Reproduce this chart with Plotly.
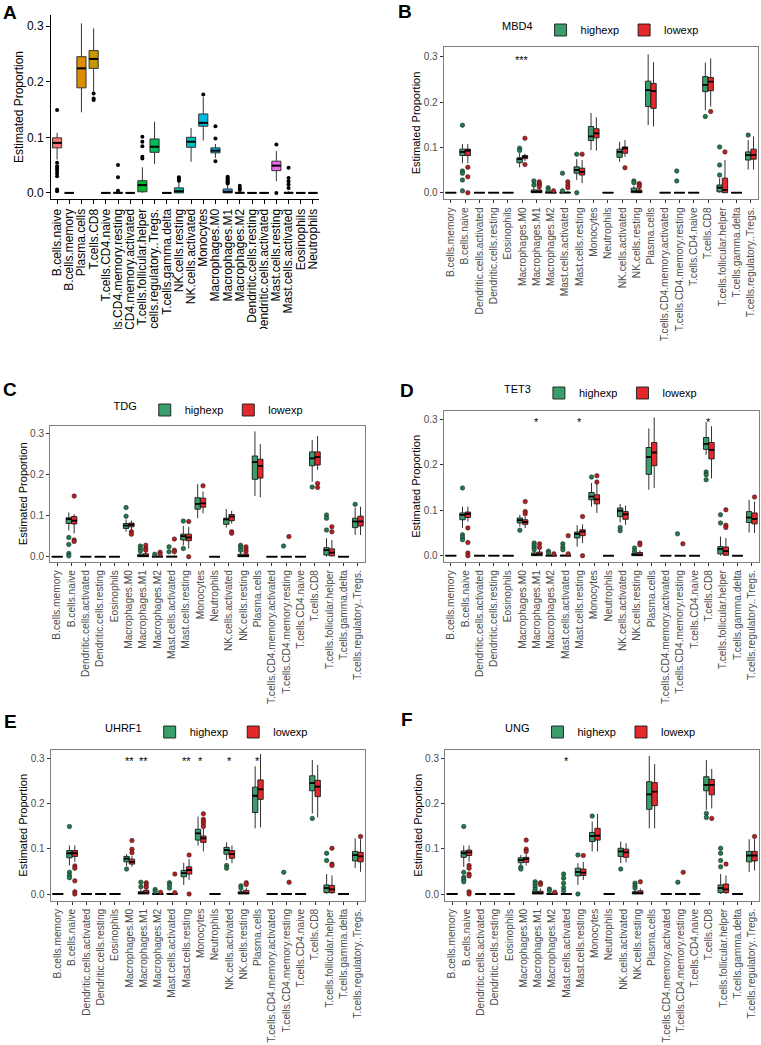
import plotly.graph_objects as go

# ── Data ──────────────────────────────────────────────────────────────────────
# box stats per cell type: (lower whisker, q1, median, q3, upper whisker)
ZERO = (0, 0, 0, 0, 0)

CELLS_A = [
    "B.cells.naive", "B.cells.memory", "Plasma.cells", "T.cells.CD8",
    "T.cells.CD4.naive", "T.cells.CD4.memory.resting", "T.cells.CD4.memory.activated",
    "T.cells.follicular.helper", "T.cells.regulatory..Tregs.", "T.cells.gamma.delta",
    "NK.cells.resting", "NK.cells.activated", "Monocytes", "Macrophages.M0",
    "Macrophages.M1", "Macrophages.M2", "Dendritic.cells.resting",
    "Dendritic.cells.activated", "Mast.cells.resting", "Mast.cells.activated",
    "Eosinophils", "Neutrophils",
]
A_COLORS = [
    "#F8766D", "#EC8239", "#DC8D00", "#C99800", "#ADA200", "#8CAB00", "#5BB300",
    "#00B92E", "#00BD5A", "#00C087", "#00C0A8", "#00BFC4", "#00BAE0", "#00B2F3",
    "#35A2FF", "#7F96FF", "#B385FF", "#D774FA", "#EF67EB", "#FC61D5", "#FF63B6",
    "#FD6F8C",
]
A_STATS = [
    (0.060, 0.081, 0.090, 0.099, 0.108), ZERO,
    (0.145, 0.189, 0.224, 0.245, 0.305), (0.182, 0.224, 0.241, 0.256, 0.296),
    ZERO, (0, 0, 0, 0.001, 0.002), ZERO,
    (0, 0.002, 0.014, 0.022, 0.046), (0.052, 0.073, 0.083, 0.097, 0.128), ZERO,
    (0, 0, 0.003, 0.009, 0.020), (0.056, 0.082, 0.092, 0.100, 0.117),
    (0.094, 0.120, 0.126, 0.142, 0.172), (0.063, 0.072, 0.076, 0.081, 0.088),
    (0, 0, 0.002, 0.007, 0.015), (0, 0, 0, 0.001, 0.003), ZERO, ZERO,
    (0.021, 0.040, 0.049, 0.057, 0.075), (0, 0, 0, 0.001, 0.003), ZERO, ZERO,
]
A_OUT = [
    [0.149, 0.054, 0.048, 0.044, 0.040, 0.035, 0.030, 0.006, 0.003], [], [],
    [0.179, 0.170, 0.167], [], [0.050, 0.028, 0.004], [],
    [0.101, 0.092, 0.084, 0.065, 0.062], [], [], [0.028, 0.025, 0.022], [],
    [0.177], [0.120, 0.098, 0.057],
    [0.029, 0.027, 0.025, 0.023, 0.021, 0.019, 0.017], [0.013, 0.008, 0.005],
    [], [], [0.087, 0.0], [0.045, 0.027, 0.021, 0.015, 0.009], [], [],
]

CELLS = [
    "B.cells.memory", "B.cells.naive", "Dendritic.cells.activated",
    "Dendritic.cells.resting", "Eosinophils", "Macrophages.M0", "Macrophages.M1",
    "Macrophages.M2", "Mast.cells.activated", "Mast.cells.resting", "Monocytes",
    "Neutrophils", "NK.cells.activated", "NK.cells.resting", "Plasma.cells",
    "T.cells.CD4.memory.activated", "T.cells.CD4.memory.resting",
    "T.cells.CD4.naive", "T.cells.CD8", "T.cells.follicular.helper",
    "T.cells.gamma.delta", "T.cells.regulatory..Tregs.",
]

# MBD4
MBD4_HIGH = [
    ZERO, (0.065, 0.082, 0.090, 0.096, 0.107), ZERO, ZERO, ZERO,
    (0.056, 0.066, 0.074, 0.077, 0.087), (0, 0, 0.002, 0.006, 0.012),
    (0, 0, 0, 0.002, 0.004), (0, 0, 0, 0.001, 0.002),
    (0.028, 0.043, 0.050, 0.057, 0.074), (0.094, 0.115, 0.124, 0.146, 0.176), ZERO,
    (0.068, 0.078, 0.090, 0.096, 0.112), (0, 0, 0.003, 0.010, 0.015),
    (0.149, 0.190, 0.226, 0.246, 0.305), ZERO, ZERO, ZERO,
    (0.182, 0.223, 0.238, 0.256, 0.287), (0, 0.002, 0.011, 0.017, 0.032), ZERO,
    (0.051, 0.072, 0.083, 0.090, 0.116),
]
MBD4_HIGH_OUT = [
    [], [0.149, 0.048, 0.043, 0.028, 0.004], [], [], [], [0.098, 0.093],
    [0.026, 0.017], [0.011, 0.006], [0.043, 0.004], [0.085, 0.0], [], [], [],
    [0.026, 0.022], [], [], [0.048, 0.026], [], [0.168], [0.101, 0.061, 0.039],
    [], [0.127],
]
MBD4_LOW = [
    ZERO, (0.065, 0.082, 0.093, 0.096, 0.107), ZERO, ZERO, ZERO,
    (0.070, 0.075, 0.079, 0.082, 0.086), (0, 0, 0.002, 0.006, 0.010),
    (0, 0, 0, 0.001, 0.002), (0, 0, 0, 0.001, 0.003),
    (0.021, 0.039, 0.046, 0.054, 0.072), (0.093, 0.121, 0.131, 0.141, 0.166), ZERO,
    (0.079, 0.087, 0.098, 0.101, 0.116), (0, 0, 0.002, 0.006, 0.010),
    (0.146, 0.186, 0.224, 0.241, 0.288), ZERO, ZERO, ZERO,
    (0.190, 0.225, 0.245, 0.254, 0.296), (0, 0, 0.006, 0.032, 0.072), ZERO,
    (0.051, 0.074, 0.083, 0.096, 0.124),
]
MBD4_LOW_OUT = [
    [], [0.056, 0.035, 0.0], [], [], [], [0.120, 0.062],
    [0.024, 0.020, 0.017, 0.013], [0.004], [0.024, 0.017, 0.011], [0.085], [], [],
    [0.055], [0.020, 0.017, 0.013], [], [], [], [], [0.179], [0.090], [], [],
]
MBD4_SIG = {"Macrophages.M0": "***"}

# TDG
TDG_HIGH = [
    ZERO, (0.064, 0.081, 0.092, 0.095, 0.108), ZERO, ZERO, ZERO,
    (0.061, 0.069, 0.076, 0.081, 0.091), (0, 0, 0.002, 0.006, 0.010),
    (0, 0, 0, 0.001, 0.002), (0, 0, 0, 0.001, 0.002),
    (0.028, 0.041, 0.050, 0.055, 0.075), (0.094, 0.116, 0.129, 0.144, 0.177), ZERO,
    (0.071, 0.079, 0.091, 0.094, 0.116), (0, 0, 0.002, 0.006, 0.012),
    (0.148, 0.189, 0.231, 0.246, 0.306), ZERO, ZERO, ZERO,
    (0.183, 0.222, 0.240, 0.256, 0.285), (0, 0.004, 0.016, 0.022, 0.045), ZERO,
    (0.053, 0.071, 0.086, 0.094, 0.120),
]
TDG_HIGH_OUT = [
    [], [0.047, 0.030, 0.008, 0.002], [], [], [], [0.120, 0.099],
    [0.026, 0.020, 0.014], [0.006], [0.024, 0.012], [0.087, 0.020], [], [], [],
    [0.028, 0.023, 0.016], [], [], [0.026], [], [0.170], [0.102, 0.094, 0.065],
    [], [0.128],
]
TDG_LOW = [
    ZERO, (0.057, 0.080, 0.088, 0.098, 0.104), ZERO, ZERO, ZERO,
    (0.065, 0.073, 0.078, 0.082, 0.088), (0, 0, 0.002, 0.007, 0.012),
    (0, 0, 0, 0.001, 0.003), (0, 0, 0, 0.001, 0.003),
    (0.020, 0.039, 0.047, 0.055, 0.073), (0.106, 0.121, 0.130, 0.143, 0.159), ZERO,
    (0.081, 0.088, 0.098, 0.103, 0.112), (0, 0, 0.002, 0.006, 0.010),
    (0.145, 0.192, 0.222, 0.238, 0.275), ZERO, ZERO, ZERO,
    (0.212, 0.224, 0.243, 0.256, 0.295), (0, 0.002, 0.010, 0.019, 0.041), ZERO,
    (0.053, 0.075, 0.086, 0.099, 0.122),
]
TDG_LOW_OUT = [
    [], [0.148, 0.041, 0.037], [], [], [], [0.061, 0.055], [0.028, 0.020, 0.016],
    [0.011, 0.006], [0.043, 0.016, 0.012], [0.086, 0.0], [0.173], [],
    [0.061, 0.057], [0.024, 0.018, 0.012], [], [], [0.049], [], [0.179, 0.169],
    [0.073, 0.061], [], [],
]
TDG_SIG = {}

# TET3
TET3_HIGH = [
    ZERO, (0.061, 0.079, 0.090, 0.094, 0.108), ZERO, ZERO, ZERO,
    (0.064, 0.072, 0.078, 0.083, 0.090), (0, 0, 0.002, 0.006, 0.010),
    (0, 0, 0, 0.001, 0.003), (0, 0, 0, 0.001, 0.003),
    (0.020, 0.039, 0.048, 0.052, 0.067), (0.108, 0.123, 0.130, 0.139, 0.160), ZERO,
    (0.073, 0.086, 0.099, 0.105, 0.114), (0, 0, 0.002, 0.005, 0.008),
    (0.145, 0.179, 0.217, 0.238, 0.280), ZERO, ZERO, ZERO,
    (0.222, 0.234, 0.246, 0.260, 0.294), (0, 0.004, 0.015, 0.020, 0.042), ZERO,
    (0.051, 0.073, 0.084, 0.097, 0.123),
]
TET3_HIGH_OUT = [
    [], [0.149, 0.046, 0.040, 0.035], [], [], [], [0.056],
    [0.028, 0.023, 0.018, 0.013], [0.010, 0.006], [0.026, 0.019, 0.013], [],
    [0.173], [], [0.062, 0.055], [0.017, 0.010], [], [], [0.048], [],
    [0.184, 0.178, 0.167], [0.090, 0.072], [], [],
]
TET3_LOW = [
    ZERO, (0.075, 0.084, 0.092, 0.096, 0.108), ZERO, ZERO, ZERO,
    (0.061, 0.069, 0.074, 0.079, 0.086), (0, 0, 0.003, 0.008, 0.014),
    (0, 0, 0, 0.001, 0.002), (0, 0, 0, 0.001, 0.002),
    (0.028, 0.044, 0.053, 0.057, 0.069), (0.094, 0.114, 0.124, 0.134, 0.159), ZERO,
    (0.068, 0.080, 0.091, 0.097, 0.110), (0, 0, 0.002, 0.007, 0.012),
    (0.149, 0.198, 0.227, 0.249, 0.304), ZERO, ZERO, ZERO,
    (0.170, 0.213, 0.233, 0.249, 0.285), (0, 0.001, 0.010, 0.019, 0.039), ZERO,
    (0.050, 0.070, 0.081, 0.094, 0.119),
]
TET3_LOW_OUT = [
    [], [0.061, 0.029, 0.006, 0.0], [], [], [], [0.119, 0.097, 0.092],
    [0.026, 0.018], [0.004], [0.044, 0.004], [0.086, 0.0], [0.176, 0.162], [],
    [], [0.028, 0.024], [], [], [0.026], [], [], [0.101, 0.067, 0.062], [],
    [0.129],
]
TET3_SIG = {"Macrophages.M1": "*", "Mast.cells.resting": "*", "T.cells.CD8": "*"}

# UHRF1
UHRF1_HIGH = [
    ZERO, (0.063, 0.080, 0.090, 0.096, 0.107), ZERO, ZERO, ZERO,
    (0.062, 0.071, 0.078, 0.083, 0.088), (0, 0, 0.002, 0.005, 0.010),
    (0, 0, 0, 0.001, 0.003), (0, 0, 0, 0.001, 0.003),
    (0.020, 0.038, 0.046, 0.052, 0.069), (0.107, 0.119, 0.134, 0.143, 0.171), ZERO,
    (0.075, 0.088, 0.097, 0.103, 0.114), (0, 0, 0.002, 0.005, 0.009),
    (0.145, 0.180, 0.217, 0.236, 0.282), ZERO, ZERO, ZERO,
    (0.178, 0.228, 0.245, 0.261, 0.296), (0, 0.003, 0.013, 0.020, 0.044), ZERO,
    (0.057, 0.073, 0.086, 0.094, 0.123),
]
UHRF1_HIGH_OUT = [
    [], [0.149, 0.048, 0.041, 0.036], [], [], [], [0.055], [0.026, 0.016],
    [0.010, 0.005], [0.025, 0.020, 0.013], [], [], [], [0.063, 0.057],
    [0.018, 0.013], [], [], [0.048], [], [0.167], [0.090, 0.074], [], [],
]
UHRF1_LOW = [
    ZERO, (0.071, 0.083, 0.090, 0.096, 0.107), ZERO, ZERO, ZERO,
    (0.060, 0.066, 0.071, 0.077, 0.084), (0, 0, 0.003, 0.008, 0.012),
    (0, 0, 0, 0.001, 0.002), (0, 0, 0, 0.001, 0.002),
    (0.031, 0.044, 0.053, 0.060, 0.077), (0.094, 0.114, 0.123, 0.128, 0.145), ZERO,
    (0.068, 0.079, 0.088, 0.096, 0.107), (0, 0, 0.002, 0.008, 0.014),
    (0.147, 0.209, 0.231, 0.252, 0.309), ZERO, ZERO, ZERO,
    (0.169, 0.215, 0.237, 0.251, 0.285), (0, 0.003, 0.010, 0.019, 0.041), ZERO,
    (0.049, 0.071, 0.083, 0.092, 0.121),
]
UHRF1_LOW_OUT = [
    [], [0.062, 0.057, 0.029, 0.005, 0.0], [], [], [], [0.118, 0.099, 0.091],
    [0.025, 0.020, 0.015], [0.004], [0.044, 0.003], [0.086, 0.0],
    [0.177, 0.165, 0.160, 0.155, 0.149], [], [], [0.025, 0.021], [], [], [0.026],
    [], [], [0.101, 0.066, 0.063], [], [0.127],
]
UHRF1_SIG = {
    "Macrophages.M0": "**", "Macrophages.M1": "**", "Mast.cells.resting": "**",
    "Monocytes": "*", "NK.cells.activated": "*", "Plasma.cells": "*",
}

# UNG
UNG_HIGH = [
    ZERO, (0.060, 0.081, 0.090, 0.095, 0.107), ZERO, ZERO, ZERO,
    (0.064, 0.069, 0.075, 0.080, 0.086), (0, 0, 0.002, 0.006, 0.008),
    (0, 0, 0, 0.001, 0.003), (0, 0, 0, 0.001, 0.002),
    (0.020, 0.040, 0.049, 0.057, 0.068), (0.094, 0.116, 0.128, 0.136, 0.160), ZERO,
    (0.068, 0.083, 0.094, 0.101, 0.116), (0, 0, 0.002, 0.005, 0.009),
    (0.145, 0.187, 0.220, 0.248, 0.305), ZERO, ZERO, ZERO,
    (0.186, 0.228, 0.241, 0.259, 0.296), (0, 0.003, 0.013, 0.020, 0.044), ZERO,
    (0.049, 0.071, 0.085, 0.094, 0.121),
]
UNG_HIGH_OUT = [
    [], [0.149, 0.048, 0.037, 0.032, 0.027], [], [], [], [0.059, 0.055],
    [0.027, 0.022, 0.016, 0.010], [0.011, 0.007], [0.044, 0.035, 0.024, 0.014, 0.007],
    [0.086, 0.0], [0.172], [], [0.055], [0.024, 0.018, 0.013], [], [], [0.026], [],
    [0.178, 0.169], [0.101, 0.090, 0.074, 0.060], [], [],
]
UNG_LOW = [
    ZERO, (0.071, 0.085, 0.092, 0.097, 0.107), ZERO, ZERO, ZERO,
    (0.063, 0.070, 0.077, 0.081, 0.088), (0, 0, 0.002, 0.006, 0.012),
    (0, 0, 0, 0.001, 0.002), ZERO,
    (0.031, 0.041, 0.047, 0.055, 0.071), (0.094, 0.119, 0.129, 0.145, 0.177), ZERO,
    (0.070, 0.081, 0.092, 0.099, 0.112), (0, 0, 0.002, 0.007, 0.012),
    (0.145, 0.195, 0.226, 0.246, 0.287), ZERO, ZERO, ZERO,
    (0.189, 0.219, 0.241, 0.253, 0.276), (0, 0.003, 0.010, 0.022, 0.041), ZERO,
    (0.052, 0.073, 0.085, 0.094, 0.121),
]
UNG_LOW_OUT = [
    [], [0.063, 0.057, 0.044, 0.040, 0.005, 0.0], [], [], [],
    [0.119, 0.099, 0.094], [0.025, 0.021], [0.004], [], [0.085], [], [], [],
    [0.027], [], [], [0.048], [], [0.167], [0.066], [], [0.127],
]
UNG_SIG = {"Mast.cells.activated": "*"}

Y_TICKS = [0.0, 0.1, 0.2, 0.3]

# ── Style ─────────────────────────────────────────────────────────────────────
_FONT = "Arial, 'Liberation Sans', sans-serif"
_HIGH = "#3A9E6C"
_LOW = "#E4282B"
_HIGH_DOT = "#1F7A4C"
_LOW_DOT = "#B71E22"
_FRAME = "#808080"
_DODGE = 0.1875
_H = 1045
_WIDTH = 761


def _px_y(py):
    return 1 - py / _H


def _px_x(px):
    return px / _WIDTH


def _median_segments(centers, stats, half):
    # thick median bar, like ggplot's fatten=2
    mx, my = [], []
    for c, st in zip(centers, stats):
        mx += [c - half, c + half, None]
        my += [st[2], st[2], None]
    return mx, my


fig = go.Figure()

# ── Panel A ───────────────────────────────────────────────────────────────────
for i, (cell, st, col) in enumerate(zip(CELLS_A, A_STATS, A_COLORS)):
    lo, q1, med, q3, hi = st
    fig.add_trace(go.Box(
        x=[i], lowerfence=[lo], q1=[q1], median=[med], q3=[q3], upperfence=[hi],
        width=0.75, whiskerwidth=0, boxpoints=False, fillcolor=col,
        line=dict(color="#333333", width=1), name=cell, showlegend=False,
        xaxis="x", yaxis="y",
    ))
mx, my = _median_segments(range(len(CELLS_A)), A_STATS, 0.375)
fig.add_trace(go.Scatter(
    x=mx, y=my, mode="lines", line=dict(color="black", width=2),
    showlegend=False, hoverinfo="skip", xaxis="x", yaxis="y",
))
xs, ys = [], []
for i, vals in enumerate(A_OUT):
    xs += [i] * len(vals)
    ys += vals
fig.add_trace(go.Scatter(
    x=xs, y=ys, mode="markers", marker=dict(size=4, color="black"),
    showlegend=False, xaxis="x", yaxis="y", hoverinfo="y",
))

# ── Panels B-F ────────────────────────────────────────────────────────────────
PANELS = [
    ("MBD4", MBD4_HIGH, MBD4_HIGH_OUT, MBD4_LOW, MBD4_LOW_OUT, MBD4_SIG),
    ("TDG", TDG_HIGH, TDG_HIGH_OUT, TDG_LOW, TDG_LOW_OUT, TDG_SIG),
    ("TET3", TET3_HIGH, TET3_HIGH_OUT, TET3_LOW, TET3_LOW_OUT, TET3_SIG),
    ("UHRF1", UHRF1_HIGH, UHRF1_HIGH_OUT, UHRF1_LOW, UHRF1_LOW_OUT, UHRF1_SIG),
    ("UNG", UNG_HIGH, UNG_HIGH_OUT, UNG_LOW, UNG_LOW_OUT, UNG_SIG),
]

annotations = []
for n, (gene, high, high_out, low, low_out, sig) in enumerate(PANELS, start=2):
    xa, ya, lg = f"x{n}", f"y{n}", f"legend{n}"
    for label, stats, outs, off, fill, dot in (
        ("highexp", high, high_out, -_DODGE, _HIGH, _HIGH_DOT),
        ("lowexp", low, low_out, _DODGE, _LOW, _LOW_DOT),
    ):
        centers = [i + off for i in range(len(CELLS))]
        lo, q1, med, q3, hi = zip(*stats)
        fig.add_trace(go.Box(
            x=centers,
            lowerfence=list(lo), q1=list(q1), median=list(med), q3=list(q3),
            upperfence=list(hi), width=0.375, whiskerwidth=0, boxpoints=False,
            fillcolor=fill, line=dict(color="#1A1A1A", width=0.9),
            name=label, legend=lg, xaxis=xa, yaxis=ya,
        ))
        mx, my = _median_segments(centers, stats, 0.1875)
        fig.add_trace(go.Scatter(
            x=mx, y=my, mode="lines", line=dict(color="black", width=1.8),
            showlegend=False, legend=lg, hoverinfo="skip", xaxis=xa, yaxis=ya,
        ))
        ox, oy = [], []
        for i, vals in enumerate(outs):
            ox += [i + off] * len(vals)
            oy += vals
        fig.add_trace(go.Scatter(
            x=ox, y=oy, mode="markers",
            marker=dict(size=4.5, color=dot, line=dict(color="#1A1A1A", width=0.5)),
            showlegend=False, legend=lg, xaxis=xa, yaxis=ya, hoverinfo="y",
        ))
    for cell, stars in sig.items():
        annotations.append(dict(
            x=CELLS.index(cell), y=0.3, xref=xa, yref=ya, text=stars,
            showarrow=False, yshift=-3, font=dict(size=11, color="black"),
        ))

# ── Layout ────────────────────────────────────────────────────────────────────
# panel frames in pixels: (left, right, top, bottom)
FRAMES = {
    1: (51, 319, 15, 199),
    2: (443.7, 758, 46.7, 199.3),
    3: (50, 365, 425.7, 562),
    4: (443.7, 759, 410.7, 562),
    5: (50.7, 365, 750, 900.7),
    6: (445, 759, 750, 900.7),
}
Y_RANGES = {
    1: [-0.011, 0.32], 2: [-0.0146, 0.322], 3: [-0.013, 0.320],
    4: [-0.0139, 0.319], 5: [-0.0148, 0.318], 6: [-0.0148, 0.318],
}
LEGEND_POS = {2: (602, 30), 3: (210, 410), 4: (602, 393), 5: (208, 732), 6: (602, 732)}
LETTERS = {"A": (10, 12), "B": (405, 11), "C": (10, 390), "D": (407, 391),
           "E": (10, 721), "F": (407, 719)}

layout = dict(
    width=_WIDTH, height=_H,
    margin=dict(l=0, r=0, t=0, b=0),
    plot_bgcolor="white", paper_bgcolor="white",
    font=dict(family=_FONT, color="black"),
    showlegend=True,
)

for n, (l, r, t, b) in FRAMES.items():
    sfx = "" if n == 1 else str(n)
    panel_a = n == 1
    ticktext = CELLS_A if panel_a else CELLS
    layout[f"xaxis{sfx}"] = dict(
        domain=[_px_x(l), _px_x(r)], anchor=f"y{sfx}", range=[-0.5, 21.5],
        tickmode="array", tickvals=list(range(len(ticktext))), ticktext=ticktext,
        tickangle=-90, ticks="outside", ticklen=4 if panel_a else 3,
        tickcolor="black" if panel_a else "#333333",
        tickfont=dict(size=12 if panel_a else 10.2,
                      color="black" if panel_a else "#4D4D4D"),
        showline=True, linecolor="black" if panel_a else _FRAME, linewidth=1,
        mirror=not panel_a, showgrid=False, zeroline=False, automargin=False,
    )
    layout[f"yaxis{sfx}"] = dict(
        domain=[_px_y(b), _px_y(t)], anchor=f"x{sfx}", range=Y_RANGES[n],
        tickmode="array", tickvals=Y_TICKS, ticktext=[f"{v:.1f}" for v in Y_TICKS],
        ticks="outside", ticklen=4 if panel_a else 3,
        tickcolor="black" if panel_a else "#333333",
        tickfont=dict(size=12 if panel_a else 10,
                      color="black" if panel_a else "#4D4D4D"),
        title=dict(text="Estimated Proportion",
                   font=dict(size=12 if panel_a else 11), standoff=0),
        showline=True, linecolor="black" if panel_a else _FRAME, linewidth=1,
        mirror=not panel_a, showgrid=False, zeroline=False, automargin=False,
    )

for n, (gene, *_rest) in enumerate(PANELS, start=2):
    cx, cy = LEGEND_POS[n]
    layout[f"legend{n}"] = dict(
        title=dict(text=gene, side="left", font=dict(size=11)),
        orientation="h", x=_px_x(cx), y=_px_y(cy), xanchor="center",
        yanchor="middle", font=dict(size=11), itemwidth=30,
        bgcolor="rgba(0,0,0,0)",
    )

for letter, (cx, cy) in LETTERS.items():
    annotations.append(dict(
        x=_px_x(cx), y=_px_y(cy), xref="paper", yref="paper", text=f"<b>{letter}</b>",
        showarrow=False, xanchor="center", yanchor="middle",
        font=dict(size=19, color="black"),
    ))

layout["annotations"] = annotations
# panel A was cropped below its tick labels in the source figure
layout["shapes"] = [dict(
    type="rect", xref="paper", yref="paper", layer="above",
    x0=0, x1=_px_x(380), y0=_px_y(376), y1=_px_y(329),
    fillcolor="white", line=dict(width=0),
)]

fig.update_layout(**layout)
fig.write_html(
    "out.html",
    config={"displayModeBar": False},
    post_script="document.body.style.margin='0';document.body.style.overflow='hidden';",
)
